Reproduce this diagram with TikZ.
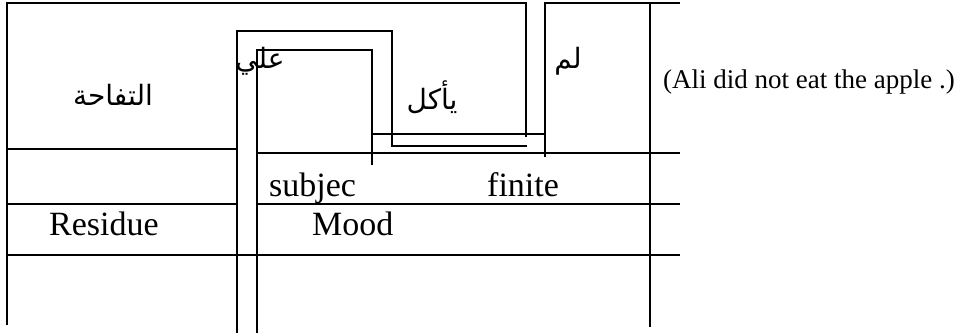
\documentclass[tikz,border=0pt]{standalone}
\usepackage{fontspec}
\setmainfont{Liberation Serif}
\newfontfamily\arabicfont[Script=Arabic]{DejaVu Sans}
\TeXXeTstate=1

\begin{document}
\begin{tikzpicture}[x=1pt, y=-1pt, rule/.style={line width=1.3pt}, lbl/.style={anchor=base west, inner sep=0pt, font=\fontsize{34}{39}\selectfont}, ar/.style={inner sep=0pt, font=\arabicfont\fontsize{28}{33}\selectfont}]
\useasboundingbox (0,0) rectangle (958,333);
% nested frames of the clause
\draw[rule] (7,325)--(7,3)--(526,3)--(526,137);
\draw[rule] (7,149)--(237,149);
\draw[rule] (237,333)--(237,31)--(392,31)--(392,146)--(527,146);
\draw[rule] (257,333)--(257,50)--(372,50)--(372,165);
\draw[rule] (372,134)--(545,134);
\draw[rule] (545,157)--(545,3)--(680,3);
\draw[rule] (650,3)--(650,327);
% rows of the analysis
\draw[rule] (257,153)--(680,153);
\draw[rule] (7,204)--(237,204); \draw[rule] (257,204)--(680,204);
\draw[rule] (7,255)--(680,255);
% words
\node[ar] (apple) at (113,95) {\beginR التفاحة\endR};
\node[ar] (ali) at (260,61) {\beginR علي\endR};
\node[ar] (eat) at (432,97) {\beginR يأكل\endR};
\node[ar] (not) at (568,61) {\beginR لم\endR};
\node[anchor=west, inner sep=0pt, font=\fontsize{27}{32}\selectfont] (gloss) at (663,82) {(Ali did not eat the apple .)};
% functions
\node[lbl] (subj) at (269,196) {subjec};
\node[lbl] (fin) at (487,196) {finite};
\node[lbl] (mood) at (312,235) {Mood};
\node[lbl] (res) at (49,235) {Residue};
\end{tikzpicture}
\end{document}
